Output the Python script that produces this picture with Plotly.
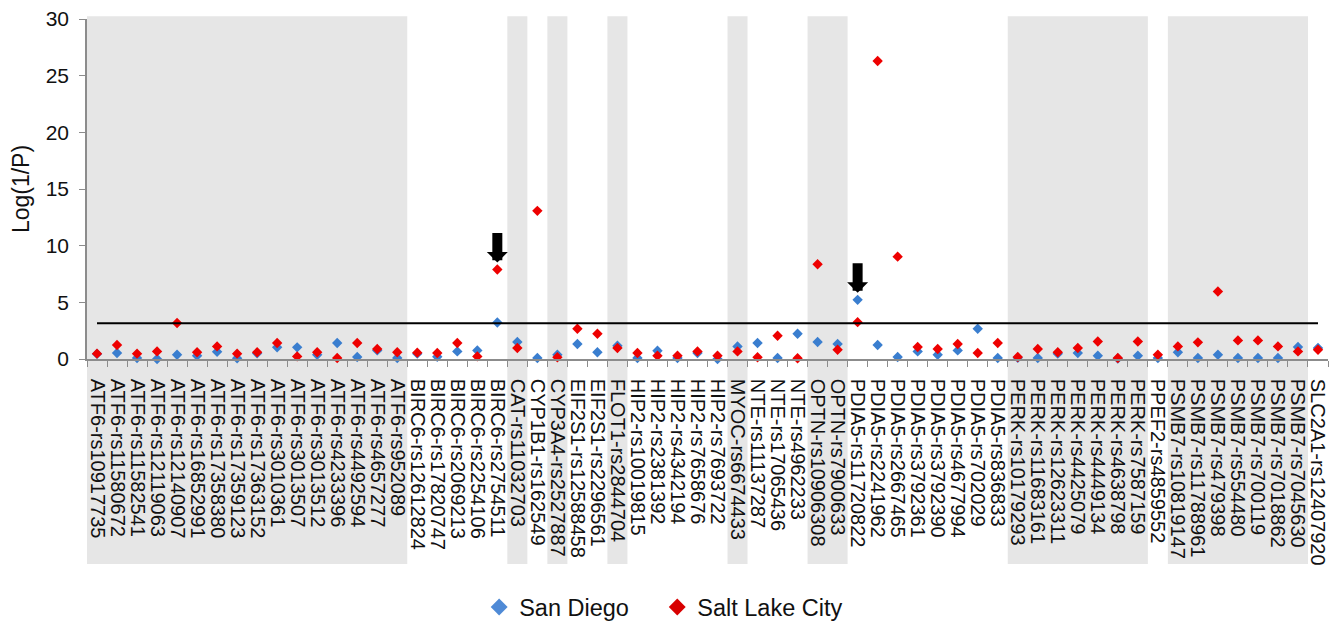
import plotly.graph_objects as go

# ---------------- data ----------------
snps = [
    "ATF6-rs10917735", "ATF6-rs11580672", "ATF6-rs11582541", "ATF6-rs12119063",
    "ATF6-rs12140907", "ATF6-rs16852991", "ATF6-rs17358380", "ATF6-rs17359123",
    "ATF6-rs17363152", "ATF6-rs3010361", "ATF6-rs3013507", "ATF6-rs3013512",
    "ATF6-rs4233396", "ATF6-rs4492594", "ATF6-rs4657277", "ATF6-rs952089",
    "BIRC6-rs12612824", "BIRC6-rs17820747", "BIRC6-rs2069213", "BIRC6-rs2254106",
    "BIRC6-rs2754511",
    "CAT-rs11032703",
    "CYP1B1-rs162549",
    "CYP3A4-rs2527887",
    "EIF2S1-rs12588458", "EIF2S1-rs2296561",
    "FLOT1-rs2844704",
    "HIP2-rs10019815", "HIP2-rs2381392", "HIP2-rs4342194", "HIP2-rs7658676",
    "HIP2-rs7693722",
    "MYOC-rs6674433",
    "NTE-rs11137287", "NTE-rs17065436", "NTE-rs4962233",
    "OPTN-rs10906308", "OPTN-rs7900633",
    "PDIA5-rs11720822", "PDIA5-rs2241962", "PDIA5-rs2667465", "PDIA5-rs3792361",
    "PDIA5-rs3792390", "PDIA5-rs4677994", "PDIA5-rs702029", "PDIA5-rs836833",
    "PERK-rs10179293", "PERK-rs11683161", "PERK-rs12623311", "PERK-rs4425079",
    "PERK-rs4449134", "PERK-rs4638798", "PERK-rs7587159",
    "PPEF2-rs4859552",
    "PSMB7-rs10819147", "PSMB7-rs11788961", "PSMB7-rs479398", "PSMB7-rs554480",
    "PSMB7-rs700119", "PSMB7-rs7018862", "PSMB7-rs7045630",
    "SLC2A1-rs12407920",
]

san_diego = [
    0.45, 0.53, 0.09, 0.00, 0.38, 0.29, 0.64, 0.06, 0.50, 1.03, 1.03, 0.38,
    1.41, 0.18, 0.76, 0.09,
    0.47, 0.20, 0.67, 0.76, 3.22,
    1.50,
    0.09,
    0.38,
    1.32, 0.59,
    1.17,
    0.09, 0.73, 0.09, 0.53, 0.00,
    1.11,
    1.41, 0.09, 2.23,
    1.50, 1.32,
    5.22, 1.23, 0.18, 0.67, 0.38, 0.76, 2.67, 0.09,
    0.10, 0.09, 0.47, 0.53, 0.29, 0.05, 0.29,
    0.09,
    0.59, 0.09, 0.38, 0.09, 0.09, 0.09, 1.06,
    0.97,
]

salt_lake_city = [
    0.47, 1.23, 0.47, 0.67, 3.17, 0.59, 1.11, 0.47, 0.59, 1.41, 0.23, 0.59,
    0.09, 1.41, 0.88, 0.59,
    0.56, 0.53, 1.41, 0.23, 7.90,
    0.97,
    13.07,
    0.15,
    2.67, 2.23,
    0.97,
    0.53, 0.29, 0.29, 0.67, 0.29,
    0.67,
    0.15, 2.05, 0.06,
    8.36, 0.82,
    3.25, 26.30, 9.03, 1.06, 0.88, 1.32, 0.53, 1.41,
    0.18, 0.88, 0.59, 0.97, 1.55, 0.09, 1.55,
    0.38,
    1.11, 1.47, 5.95, 1.64, 1.64, 1.11, 0.67,
    0.82,
]

threshold = 3.15

# genes whose SNPs sit on a grey band (start, end index in snps)
shaded_groups = [("ATF6", 0, 15), ("CAT", 21, 21), ("CYP3A4", 23, 23),
                 ("FLOT1", 26, 26), ("MYOC", 32, 32), ("OPTN", 36, 37),
                 ("PERK", 46, 52), ("PSMB7", 54, 60)]

# SNPs marked with an arrow: (snp, series the arrow points at)
arrow_marks = [("BIRC6-rs2754511", "slc"), ("PDIA5-rs11720822", "sd")]

# ---------------- figure ----------------
FONT = "Liberation Sans, Arial, Helvetica, sans-serif"
BLUE = "#3A7ECF"
RED = "#EE0000"
LEG_BLUE = "#4F8AD6"
LEG_RED = "#D80000"

fig = go.Figure()

fig.add_trace(go.Scatter(
    x=snps, y=san_diego, mode="markers", name="San Diego",
    marker=dict(symbol="diamond", size=8, color=BLUE),
    cliponaxis=False, showlegend=False, legendgroup="sd",
))
fig.add_trace(go.Scatter(
    x=snps, y=salt_lake_city, mode="markers", name="Salt Lake City",
    marker=dict(symbol="diamond", size=8, color=RED),
    cliponaxis=False, showlegend=False, legendgroup="slc",
))
fig.add_trace(go.Scatter(
    x=[snps[0], snps[-1]], y=[threshold, threshold], mode="lines",
    line=dict(color="black", width=2), showlegend=False, hoverinfo="skip",
))
# legend entries (larger symbols, as in the original legend)
fig.add_trace(go.Scatter(
    x=[None], y=[None], mode="markers", name="San Diego", legendgroup="sd",
    marker=dict(symbol="diamond", size=13, color=LEG_BLUE), legend="legend",
))
fig.add_trace(go.Scatter(
    x=[None], y=[None], mode="markers", name="Salt Lake City", legendgroup="slc",
    marker=dict(symbol="diamond", size=13, color=LEG_RED), legend="legend2",
))

shapes = []
for _, a, b in shaded_groups:
    shapes.append(dict(
        type="rect", xref="x", yref="paper",
        x0=a - 0.5, x1=b + 0.5, y0=-0.603, y1=1.008,
        fillcolor="#E6E6E6", line=dict(width=0), layer="below",
    ))

annotations = []
for snp, series in arrow_marks:
    i = snps.index(snp)
    yv = salt_lake_city[i] if series == "slc" else san_diego[i]
    annotations.append(dict(
        x=snp, y=yv, xref="x", yref="y", text="",
        showarrow=True, arrowhead=1, arrowsize=0.35, arrowwidth=10,
        arrowcolor="black", ax=0, ay=-38, standoff=7,
    ))

legend_style = dict(
    orientation="h", xanchor="left", yanchor="middle", y=-0.73,
    font=dict(size=23.5, family=FONT, color="#111111"),
    bgcolor="rgba(0,0,0,0)",
)

fig.update_layout(
    width=1337, height=623,
    margin=dict(l=87, r=9, t=19, b=264, autoexpand=False),
    paper_bgcolor="white", plot_bgcolor="rgba(0,0,0,0)",
    font=dict(family=FONT, color="#111111"),
    shapes=shapes, annotations=annotations,
    showlegend=True,
    legend=dict(x=0.316, **legend_style),
    legend2=dict(x=0.4595, **legend_style),
)

fig.update_xaxes(
    type="category", range=[-0.5, len(snps) - 0.5], automargin=False,
    tickmode="linear", tick0=0, dtick=1,
    tickangle=90, tickfont=dict(size=20, family=FONT, color="#111111"),
    ticklabelstandoff=14,
    showline=True, linecolor="#8C8C8C", linewidth=1.5,
    ticks="outside", tickson="boundaries", ticklen=6, tickcolor="#8C8C8C",
    showgrid=False, zeroline=False,
)
fig.update_yaxes(
    range=[0, 30], tickmode="linear", tick0=0, dtick=5, automargin=False,
    tickfont=dict(size=21, family=FONT, color="#111111"),
    ticklabelstandoff=6,
    showline=True, linecolor="#8C8C8C", linewidth=1.5,
    ticks="outside", ticklen=6, tickcolor="#8C8C8C",
    showgrid=False, zeroline=False,
    title=dict(text="Log(1/P)", font=dict(size=23, family=FONT, color="#111111"),
               standoff=10),
)

fig.write_html("out.html", config={"displayModeBar": False},
               post_script="document.body.style.margin='0';")
